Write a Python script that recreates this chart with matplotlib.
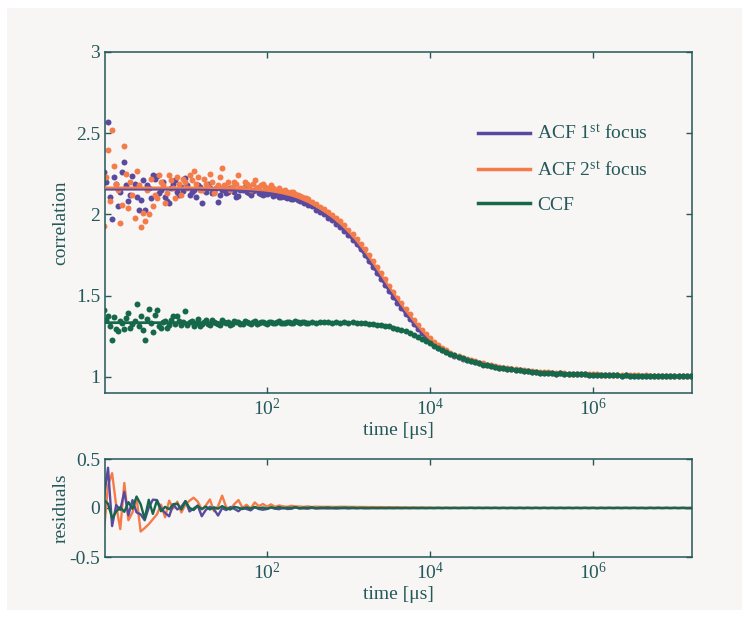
import matplotlib
matplotlib.use("Agg")
import matplotlib.pyplot as plt
from matplotlib.patches import Rectangle
from matplotlib.lines import Line2D
import numpy as np

plt.rcParams['font.family'] = ['Liberation Serif', 'DejaVu Serif']
plt.rcParams['mathtext.fontset'] = 'custom'
plt.rcParams['mathtext.rm'] = 'Liberation Serif'
plt.rcParams['mathtext.it'] = 'Liberation Serif:italic'

# ---------------- data ----------------
time_us = [
    1.000, 1.122, 1.259, 1.413, 1.585, 1.778, 1.995, 2.239, 2.512, 2.818,
    3.162, 3.548, 3.981, 4.467, 5.012, 5.623, 6.310, 7.079, 7.943, 8.913,
    1.000e1, 1.122e1, 1.259e1, 1.413e1, 1.585e1, 1.778e1, 1.995e1, 2.239e1, 2.512e1, 2.818e1,
    3.162e1, 3.548e1, 3.981e1, 4.467e1, 5.012e1, 5.623e1, 6.310e1, 7.079e1, 7.943e1, 8.913e1,
    1.000e2, 1.122e2, 1.259e2, 1.413e2, 1.585e2, 1.778e2, 1.995e2, 2.239e2, 2.512e2, 2.818e2,
    3.162e2, 3.548e2, 3.981e2, 4.467e2, 5.012e2, 5.623e2, 6.310e2, 7.079e2, 7.943e2, 8.913e2,
    1.000e3, 1.122e3, 1.259e3, 1.413e3, 1.585e3, 1.778e3, 1.995e3, 2.239e3, 2.512e3, 2.818e3,
    3.162e3, 3.548e3, 3.981e3, 4.467e3, 5.012e3, 5.623e3, 6.310e3, 7.079e3, 7.943e3, 8.913e3,
    1.000e4, 1.122e4, 1.259e4, 1.413e4, 1.585e4, 1.778e4, 1.995e4, 2.239e4, 2.512e4, 2.818e4,
    3.162e4, 3.548e4, 3.981e4, 4.467e4, 5.012e4, 5.623e4, 6.310e4, 7.079e4, 7.943e4, 8.913e4,
    1.000e5, 1.122e5, 1.259e5, 1.413e5, 1.585e5, 1.778e5, 1.995e5, 2.239e5, 2.512e5, 2.818e5,
    3.162e5, 3.548e5, 3.981e5, 4.467e5, 5.012e5, 5.623e5, 6.310e5, 7.079e5, 7.943e5, 8.913e5,
    1.000e6, 1.122e6, 1.259e6, 1.413e6, 1.585e6, 1.778e6, 1.995e6, 2.239e6, 2.512e6, 2.818e6,
    3.162e6, 3.548e6, 3.981e6, 4.467e6, 5.012e6, 5.623e6, 6.310e6, 7.079e6, 7.943e6, 8.913e6,
    1.000e7, 1.122e7, 1.259e7, 1.413e7, 1.585e7,
]

# measured correlation points
acf1_data = [
    2.260, 2.566, 1.970, 2.185, 2.135, 2.320, 2.080, 2.236, 2.110, 2.090,
    2.030, 2.160, 2.240, 2.236, 2.150, 2.105, 2.070, 2.190, 2.140, 2.170,
    2.226, 2.120, 2.150, 2.180, 2.070, 2.135, 2.165, 2.140, 2.075, 2.150,
    2.130, 2.160, 2.140, 2.115, 2.150, 2.135, 2.120, 2.150, 2.130, 2.120,
    2.125, 2.135, 2.120, 2.110, 2.120, 2.100, 2.095, 2.100, 2.080, 2.070,
    2.055, 2.050, 2.030, 2.015, 2.000, 1.980, 1.965, 1.940, 1.922, 1.898,
    1.870, 1.845, 1.815, 1.784, 1.748, 1.714, 1.678, 1.640, 1.603, 1.565,
    1.528, 1.492, 1.455, 1.422, 1.388, 1.357, 1.325, 1.296, 1.267, 1.242,
    1.217, 1.197, 1.179, 1.164, 1.150, 1.138, 1.128, 1.119, 1.111, 1.104,
    1.097, 1.089, 1.083, 1.076, 1.071, 1.065, 1.061, 1.055, 1.052, 1.047,
    1.045, 1.040, 1.039, 1.035, 1.034, 1.030, 1.030, 1.026, 1.026, 1.023,
    1.023, 1.020, 1.021, 1.018, 1.019, 1.016, 1.017, 1.014, 1.015, 1.012,
    1.013, 1.011, 1.012, 1.009, 1.010, 1.008, 1.009, 1.007, 1.008, 1.006,
    1.007, 1.005, 1.007, 1.005, 1.006, 1.004, 1.005, 1.003, 1.005, 1.003,
    1.004, 1.002, 1.004, 1.002, 1.003,
]
acf2_data = [
    1.930, 2.395, 2.520, 2.190, 1.950, 2.420, 2.040, 2.120, 2.270, 1.925,
    1.960, 2.000, 2.050, 2.100, 2.200, 2.070, 2.240, 2.160, 2.230, 2.120,
    2.200, 2.240, 2.270, 2.230, 2.150, 2.190, 2.250, 2.130, 2.180, 2.288,
    2.170, 2.150, 2.200, 2.240, 2.160, 2.190, 2.150, 2.210, 2.170, 2.190,
    2.160, 2.180, 2.150, 2.160, 2.145, 2.135, 2.140, 2.125, 2.115, 2.100,
    2.095, 2.075, 2.065, 2.048, 2.032, 2.016, 1.997, 1.975, 1.957, 1.932,
    1.906, 1.878, 1.850, 1.817, 1.785, 1.749, 1.713, 1.676, 1.637, 1.600,
    1.561, 1.525, 1.487, 1.452, 1.416, 1.384, 1.351, 1.321, 1.290, 1.263,
    1.236, 1.215, 1.194, 1.178, 1.162, 1.149, 1.137, 1.128, 1.118, 1.111,
    1.102, 1.096, 1.087, 1.082, 1.075, 1.071, 1.064, 1.061, 1.055, 1.052,
    1.047, 1.045, 1.041, 1.040, 1.036, 1.035, 1.031, 1.030, 1.027, 1.027,
    1.024, 1.024, 1.022, 1.022, 1.020, 1.020, 1.018, 1.018, 1.016, 1.016,
    1.014, 1.015, 1.013, 1.013, 1.011, 1.012, 1.010, 1.011, 1.009, 1.010,
    1.008, 1.009, 1.007, 1.008, 1.006, 1.007, 1.006, 1.006, 1.005, 1.005,
    1.005, 1.004, 1.004, 1.003, 1.004,
]
ccf_data = [
    1.414, 1.377, 1.228, 1.296, 1.341, 1.294, 1.393, 1.325, 1.450, 1.372,
    1.224, 1.417, 1.273, 1.410, 1.300, 1.345, 1.320, 1.372, 1.377, 1.318,
    1.403, 1.335, 1.312, 1.355, 1.322, 1.347, 1.318, 1.340, 1.326, 1.352,
    1.330, 1.318, 1.345, 1.336, 1.322, 1.340, 1.328, 1.344, 1.330, 1.338,
    1.326, 1.340, 1.331, 1.343, 1.329, 1.336, 1.334, 1.341, 1.330, 1.337,
    1.334, 1.340, 1.331, 1.336, 1.335, 1.338, 1.332, 1.336, 1.334, 1.337,
    1.334, 1.335, 1.330, 1.331, 1.330, 1.326, 1.326, 1.321, 1.320, 1.314,
    1.311, 1.303, 1.297, 1.287, 1.281, 1.268, 1.259, 1.245, 1.234, 1.218,
    1.206, 1.190, 1.179, 1.164, 1.153, 1.140, 1.131, 1.120, 1.113, 1.103,
    1.098, 1.088, 1.083, 1.075, 1.071, 1.064, 1.061, 1.055, 1.052, 1.047,
    1.045, 1.040, 1.039, 1.035, 1.034, 1.030, 1.030, 1.026, 1.026, 1.023,
    1.023, 1.020, 1.021, 1.018, 1.019, 1.016, 1.017, 1.014, 1.015, 1.012,
    1.013, 1.010, 1.012, 1.009, 1.010, 1.008, 1.009, 1.007, 1.008, 1.006,
    1.007, 1.005, 1.006, 1.004, 1.006, 1.004, 1.005, 1.003, 1.005, 1.003,
    1.004, 1.002, 1.004, 1.002, 1.003,
]

# extra measured points at intermediate lag times (first 2.5 decades)
time_us_mid = [
    1.059, 1.189, 1.334, 1.496, 1.679, 1.884, 2.113, 2.371, 2.661, 2.985,
    3.350, 3.758, 4.217, 4.732, 5.309, 5.957, 6.683, 7.499, 8.414, 9.441,
    1.059e1, 1.189e1, 1.334e1, 1.496e1, 1.679e1, 1.884e1, 2.113e1, 2.371e1, 2.661e1, 2.985e1,
    3.350e1, 3.758e1, 4.217e1, 4.732e1, 5.309e1, 5.957e1, 6.683e1, 7.499e1, 8.414e1, 9.441e1,
    1.059e2, 1.189e2, 1.334e2, 1.496e2, 1.679e2, 1.884e2, 2.113e2, 2.371e2, 2.661e2, 2.985e2,
]
acf1_data_mid = [
    2.200, 2.110, 2.230, 2.050, 2.260, 2.180, 2.120, 2.190, 2.030, 2.210,
    2.180, 2.100, 2.220, 2.130, 2.200, 2.080, 2.165, 2.210, 2.120, 2.145,
    2.180, 2.140, 2.105, 2.170, 2.150, 2.190, 2.130, 2.160, 2.120, 2.175,
    2.140, 2.165, 2.105, 2.150, 2.170, 2.130, 2.145, 2.160, 2.125, 2.140,
    2.130, 2.115, 2.135, 2.110, 2.105, 2.115, 2.095, 2.090, 2.080, 2.075,
]
acf2_data_mid = [
    2.230, 2.080, 2.300, 2.150, 2.060, 2.250, 2.200, 1.980, 2.180, 2.010,
    2.150, 2.220, 2.120, 2.240, 2.180, 2.130, 2.210, 2.100, 2.190, 2.220,
    2.160, 2.210, 2.190, 2.150, 2.220, 2.170, 2.200, 2.160, 2.230, 2.180,
    2.200, 2.170, 2.185, 2.160, 2.200, 2.175, 2.190, 2.165, 2.180, 2.170,
    2.155, 2.165, 2.150, 2.145, 2.150, 2.130, 2.135, 2.120, 2.110, 2.100,
]
ccf_data_mid = [
    1.350, 1.310, 1.365, 1.280, 1.330, 1.360, 1.300, 1.345, 1.315, 1.290,
    1.355, 1.330, 1.380, 1.310, 1.340, 1.300, 1.350, 1.325, 1.345, 1.335,
    1.320, 1.345, 1.330, 1.315, 1.340, 1.325, 1.350, 1.330, 1.320, 1.338,
    1.340, 1.328, 1.336, 1.322, 1.344, 1.330, 1.338, 1.326, 1.340, 1.332,
    1.336, 1.331, 1.339, 1.333, 1.330, 1.338, 1.332, 1.335, 1.337, 1.331,
]

# fitted curves
acf1_fit = [
    2.155, 2.155, 2.155, 2.155, 2.155, 2.155, 2.155, 2.155, 2.155, 2.155,
    2.155, 2.155, 2.155, 2.155, 2.155, 2.155, 2.155, 2.155, 2.155, 2.155,
    2.155, 2.155, 2.155, 2.155, 2.154, 2.154, 2.153, 2.153, 2.152, 2.152,
    2.151, 2.150, 2.149, 2.148, 2.147, 2.146, 2.144, 2.142, 2.140, 2.138,
    2.135, 2.131, 2.127, 2.122, 2.117, 2.110, 2.103, 2.094, 2.085, 2.074,
    2.062, 2.049, 2.035, 2.019, 2.003, 1.985, 1.967, 1.946, 1.925, 1.900,
    1.875, 1.847, 1.818, 1.785, 1.752, 1.716, 1.680, 1.643, 1.605, 1.568,
    1.530, 1.494, 1.458, 1.424, 1.390, 1.359, 1.327, 1.298, 1.268, 1.243,
    1.218, 1.198, 1.179, 1.165, 1.150, 1.139, 1.128, 1.120, 1.111, 1.104,
    1.096, 1.089, 1.082, 1.076, 1.070, 1.065, 1.060, 1.056, 1.051, 1.048,
    1.044, 1.041, 1.038, 1.036, 1.033, 1.031, 1.029, 1.027, 1.025, 1.024,
    1.022, 1.021, 1.020, 1.019, 1.018, 1.017, 1.016, 1.015, 1.014, 1.013,
    1.012, 1.012, 1.011, 1.010, 1.009, 1.009, 1.008, 1.008, 1.007, 1.007,
    1.006, 1.006, 1.006, 1.006, 1.005, 1.005, 1.004, 1.004, 1.004, 1.004,
    1.003, 1.003, 1.003, 1.003, 1.003,
]
acf2_fit = [
    2.165, 2.165, 2.165, 2.165, 2.165, 2.165, 2.165, 2.165, 2.165, 2.165,
    2.165, 2.165, 2.165, 2.165, 2.165, 2.165, 2.165, 2.165, 2.165, 2.165,
    2.165, 2.165, 2.165, 2.165, 2.164, 2.164, 2.163, 2.163, 2.162, 2.162,
    2.161, 2.161, 2.160, 2.159, 2.158, 2.157, 2.155, 2.153, 2.151, 2.149,
    2.146, 2.143, 2.139, 2.134, 2.129, 2.123, 2.117, 2.109, 2.100, 2.089,
    2.078, 2.065, 2.051, 2.036, 2.020, 2.003, 1.985, 1.965, 1.944, 1.920,
    1.895, 1.867, 1.839, 1.807, 1.775, 1.740, 1.704, 1.667, 1.629, 1.591,
    1.553, 1.517, 1.480, 1.445, 1.410, 1.378, 1.346, 1.316, 1.285, 1.259,
    1.232, 1.212, 1.191, 1.175, 1.159, 1.147, 1.135, 1.126, 1.116, 1.109,
    1.101, 1.094, 1.086, 1.080, 1.074, 1.069, 1.063, 1.059, 1.054, 1.050,
    1.046, 1.043, 1.040, 1.038, 1.035, 1.033, 1.030, 1.028, 1.026, 1.025,
    1.023, 1.022, 1.021, 1.020, 1.019, 1.018, 1.017, 1.016, 1.015, 1.014,
    1.013, 1.013, 1.012, 1.011, 1.010, 1.010, 1.009, 1.009, 1.008, 1.008,
    1.007, 1.007, 1.006, 1.006, 1.005, 1.005, 1.005, 1.005, 1.004, 1.004,
    1.004, 1.004, 1.003, 1.003, 1.003,
]
ccf_fit = [
    1.333, 1.333, 1.333, 1.333, 1.333, 1.333, 1.333, 1.333, 1.333, 1.333,
    1.333, 1.333, 1.333, 1.333, 1.333, 1.333, 1.333, 1.333, 1.333, 1.333,
    1.333, 1.333, 1.333, 1.333, 1.333, 1.333, 1.333, 1.333, 1.333, 1.333,
    1.333, 1.333, 1.333, 1.333, 1.333, 1.333, 1.333, 1.333, 1.333, 1.333,
    1.333, 1.333, 1.333, 1.333, 1.333, 1.333, 1.333, 1.333, 1.333, 1.333,
    1.333, 1.333, 1.333, 1.333, 1.333, 1.333, 1.333, 1.333, 1.333, 1.333,
    1.333, 1.332, 1.331, 1.330, 1.329, 1.327, 1.325, 1.322, 1.319, 1.315,
    1.310, 1.304, 1.296, 1.288, 1.280, 1.269, 1.258, 1.246, 1.233, 1.219,
    1.205, 1.191, 1.178, 1.165, 1.152, 1.141, 1.130, 1.121, 1.112, 1.104,
    1.096, 1.089, 1.082, 1.076, 1.070, 1.065, 1.060, 1.056, 1.051, 1.048,
    1.044, 1.041, 1.038, 1.036, 1.033, 1.031, 1.029, 1.027, 1.025, 1.024,
    1.022, 1.021, 1.020, 1.019, 1.018, 1.017, 1.016, 1.015, 1.014, 1.013,
    1.012, 1.012, 1.011, 1.010, 1.009, 1.009, 1.008, 1.008, 1.007, 1.007,
    1.006, 1.006, 1.006, 1.006, 1.005, 1.005, 1.004, 1.004, 1.004, 1.004,
    1.003, 1.003, 1.003, 1.003, 1.003,
]

series_labels = ['ACF 1$^{\\mathregular{st}}$ focus', 'ACF 2$^{\\mathregular{st}}$ focus', 'CCF']
xtick_values = [1e2, 1e4, 1e6]
xtick_labels = ['$\\mathregular{10^{2}}$', '$\\mathregular{10^{4}}$', '$\\mathregular{10^{6}}$']
ytick_top = [1, 1.5, 2, 2.5, 3]
ytick_top_labels = ['1', '1.5', '2', '2.5', '3']
ytick_res = [-0.5, 0, 0.5]
ytick_res_labels = ['-0.5', '0', '0.5']

# ---------------- style ----------------
C_PURPLE = '#5a4a9f'
C_ORANGE = '#f47c4a'
C_GREEN = '#16684a'
C_AX = '#24585a'
BG = '#f8f6f4'
FS = 14

t = np.array(time_us)
res1 = np.array(acf1_data) - np.array(acf1_fit)
res2 = np.array(acf2_data) - np.array(acf2_fit)
res3 = np.array(ccf_data) - np.array(ccf_fit)

fig = plt.figure(figsize=(7.52, 6.18), dpi=100)
fig.patch.set_facecolor('white')
fig.patches.append(Rectangle((7 / 752, 1 - 610 / 618), (742 - 7) / 752, (610 - 8) / 618,
                             transform=fig.transFigure, facecolor=BG, edgecolor='none', zorder=-10))

ax = fig.add_axes([105 / 752, 1 - 393 / 618, 587 / 752, 341 / 618])
axr = fig.add_axes([105 / 752, 1 - 557 / 618, 587 / 752, 98 / 618])


def style(a):
    a.set_facecolor(BG)
    for s in a.spines.values():
        s.set_color(C_AX)
        s.set_linewidth(1.1)
    a.tick_params(which='both', direction='in', top=True, right=True, colors=C_AX,
                  labelsize=FS, length=4, width=1.0)
    a.tick_params(which='minor', length=0)
    a.set_xscale('log')
    a.set_xlim(1.03, 1.64e7)
    a.set_xticks(xtick_values)
    a.set_xticklabels(xtick_labels)
    a.xaxis.set_minor_locator(matplotlib.ticker.NullLocator())
    a.set_xlabel('time [μs]', fontsize=FS, color=C_AX, labelpad=2)


style(ax)
style(axr)

ms = 4.3
ax.plot(t, acf1_data, 'o', color=C_PURPLE, ms=ms, mec='none', zorder=2)
ax.plot(time_us_mid, acf1_data_mid, 'o', color=C_PURPLE, ms=ms, mec='none', zorder=2)
ax.plot(t, acf2_data, 'o', color=C_ORANGE, ms=ms, mec='none', zorder=2.1)
ax.plot(time_us_mid, acf2_data_mid, 'o', color=C_ORANGE, ms=ms, mec='none', zorder=2.1)
ax.plot(t, acf1_fit, '-', color=C_PURPLE, lw=2.0, zorder=3)
ax.plot(t, acf2_fit, '-', color=C_ORANGE, lw=1.6, zorder=3.1)
ax.plot(t, ccf_data, 'o', color=C_GREEN, ms=ms, mec='none', zorder=3.2)
ax.plot(time_us_mid, ccf_data_mid, 'o', color=C_GREEN, ms=ms, mec='none', zorder=3.2)
ax.plot(t, ccf_fit, '-', color=C_GREEN, lw=2.0, zorder=3.3)

ax.set_ylim(0.9, 3)
ax.set_yticks(ytick_top)
ax.set_yticklabels(ytick_top_labels)
ax.set_ylabel('correlation', fontsize=FS, color=C_AX, labelpad=5)

handles = [Line2D([], [], color=C_PURPLE, lw=2.5),
           Line2D([], [], color=C_ORANGE, lw=2.5),
           Line2D([], [], color=C_GREEN, lw=2.5)]
leg = ax.legend(handles, series_labels, loc='upper left', bbox_to_anchor=(0.605, 0.84),
                frameon=False, fontsize=FS, handlelength=2.7, handletextpad=0.35,
                labelspacing=0.85)
for txt in leg.get_texts():
    txt.set_color(C_AX)

axr.plot(t, res2, '-', color=C_ORANGE, lw=1.7, zorder=2)
axr.plot(t, res1, '-', color=C_PURPLE, lw=1.7, zorder=2.1)
axr.plot(t, res3, '-', color=C_GREEN, lw=1.7, zorder=2.2)
axr.set_ylim(-0.5, 0.5)
axr.set_yticks(ytick_res)
axr.set_yticklabels(ytick_res_labels)
axr.set_ylabel('residuals', fontsize=FS, color=C_AX, labelpad=0)

fig.savefig('out.png', dpi=100, facecolor='white')
